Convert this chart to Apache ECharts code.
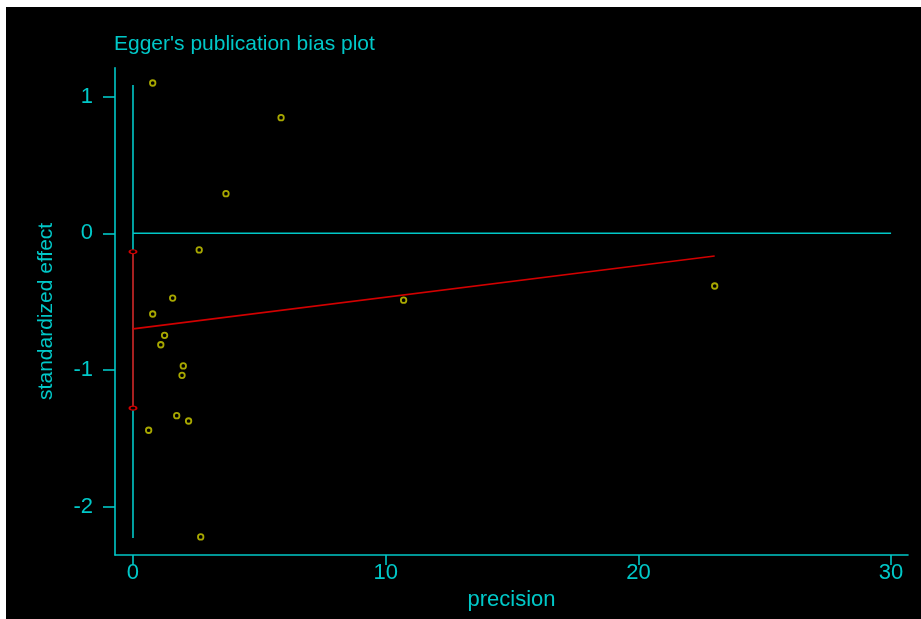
<!DOCTYPE html>
<html>
<head>
<meta charset="utf-8">
<script src="https://cdn.jsdelivr.net/npm/echarts@6/dist/echarts.min.js"></script>
<style>
html,body{margin:0;padding:0;background:#fff;}
#c{position:absolute;left:6px;top:7px;width:915px;height:612px;background:#000;}
</style>
</head>
<body>
<div id="c"></div>
<script>
// ---- data ----
var precision = [0.78, 5.86, 3.68, 2.62, 1.57, 10.71, 23.02, 0.78, 1.25, 1.10, 1.99, 1.94, 1.73, 2.20, 0.62, 2.68];
var stdEffect = [1.100, 0.846, 0.290, -0.122, -0.474, -0.490, -0.386, -0.591, -0.747, -0.816, -0.971, -1.040, -1.335, -1.374, -1.442, -2.223];
var xTicks = [0, 10, 20, 30];
var yTicks = [-2, -1, 0, 1];
var interceptCI = [-1.28, -0.135];   // lower, upper of intercept CI at precision 0
var regX = [0, 23.02];
var regY = [-0.70, -0.166];
var refVertY = [-2.23, 1.085];        // cyan vertical line at precision 0
var refHorizX = [0, 30];              // cyan horizontal line at effect 0

var CY = '#00c8c8', YL = '#d2d200', RD = '#d20000';
var FONT = "'Liberation Sans',Arial,sans-serif";

var chart = echarts.init(document.getElementById('c'), null, {renderer:'canvas'});
var pts = precision.map(function(p,i){return [p, stdEffect[i]];});

chart.setOption({
  backgroundColor:'#000',
  animation:false,
  title:{
    text:"Egger's publication bias plot",
    left:103, top:22,
    textStyle:{color:CY, fontSize:21, fontWeight:'normal', fontFamily:FONT}
  },
  grid:{left:109, top:60.7, width:793, height:487.3, containLabel:false},
  xAxis:{
    type:'value', min:-0.712, max:30.67,
    splitLine:{show:false},
    axisLine:{show:true, onZero:false, lineStyle:{color:CY, width:1.6}},
    axisTick:{show:true, length:10, customValues:xTicks, lineStyle:{color:CY, width:1.6}},
    axisLabel:{customValues:xTicks, color:CY, fontSize:22, fontFamily:FONT, margin:7},
    name:'precision', nameLocation:'middle', nameGap:30,
    nameTextStyle:{color:CY, fontSize:22, fontFamily:FONT}
  },
  yAxis:{
    type:'value', min:-2.355, max:1.212,
    splitLine:{show:false},
    axisLine:{show:true, onZero:false, lineStyle:{color:CY, width:1.6}},
    axisTick:{show:true, length:12, customValues:yTicks, lineStyle:{color:CY, width:1.6}},
    axisLabel:{customValues:yTicks, color:CY, fontSize:22, fontFamily:FONT, margin:22},
    name:'standardized effect', nameLocation:'middle', nameGap:58,
    nameTextStyle:{color:CY, fontSize:21, fontFamily:FONT}
  },
  series:[
    {type:'line', data:[[0,refVertY[0]],[0,refVertY[1]]], symbol:'none',
      lineStyle:{color:CY, width:1.6}, silent:true, z:1},
    {type:'line', data:[[refHorizX[0],0],[refHorizX[1],0]], symbol:'none',
      lineStyle:{color:CY, width:1.6}, silent:true, z:1},
    {type:'line', data:[[0,interceptCI[0]],[0,interceptCI[1]]], symbol:'circle', symbolSize:[7,4],
      itemStyle:{color:'#000', borderColor:RD, borderWidth:1.5},
      lineStyle:{color:RD, width:1.6}, silent:true, z:3},
    {type:'line', data:[[regX[0],regY[0]],[regX[1],regY[1]]], symbol:'none',
      lineStyle:{color:RD, width:1.6}, silent:true, z:3},
    {type:'scatter', data:pts, symbol:'circle', symbolSize:5.5,
      itemStyle:{color:'#000', borderColor:YL, borderWidth:1.8}, z:4}
  ]
});
</script>
</body>
</html>
